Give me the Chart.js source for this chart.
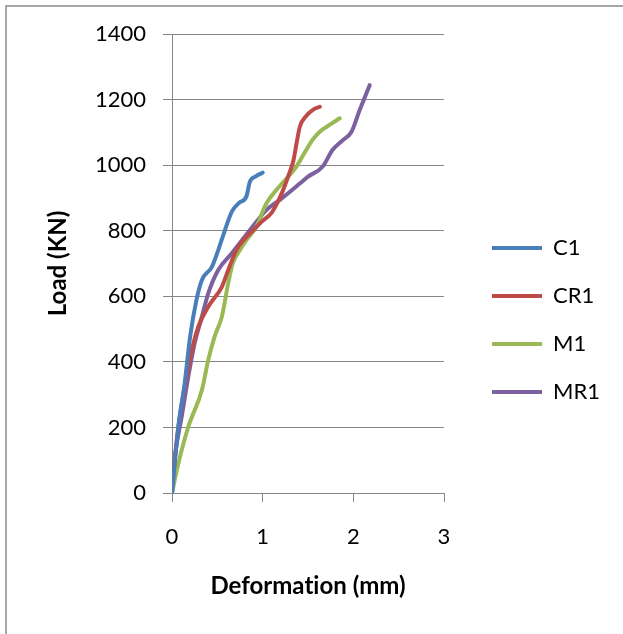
<!DOCTYPE html>
<html>
<head>
<meta charset="utf-8">
<title>Load vs Deformation</title>
<script src="https://cdn.jsdelivr.net/npm/chart.js@4"></script>
<style>
  html, body { margin: 0; padding: 0; background: #fff; }
  #wrap { position: relative; width: 623px; height: 634px; overflow: hidden; }
  #frame { position: absolute; left: 5px; top: 5px; width: 700px; height: 700px;
           border-left: 2px solid #a6a6a6; border-top: 2px solid #a6a6a6; }
  canvas { position: absolute; left: 0; top: 0; }
</style>
</head>
<body>
<div id="wrap">
  <div id="frame"></div>
  <canvas id="myChart" width="623" height="634"></canvas>
</div>
<script>
// values
const seriesNames = ['C1', 'CR1', 'M1', 'MR1'];
const seriesColors = ['#4A7EBB', '#BE4B48', '#98B954', '#7D60A0'];

const c1X = [0, 0.07, 0.14, 0.2, 0.27, 0.33, 0.44, 0.51, 0.56, 0.66, 0.74, 0.82, 0.86, 0.92, 1.0];
const c1Y = [0, 202, 335, 477, 589, 650, 690, 741, 782, 858, 885, 904, 950, 965, 977];

const cr1X = [0, 0.04, 0.1, 0.22, 0.29, 0.4, 0.55, 0.62, 0.71, 0.8, 0.89, 1.0, 1.1, 1.17, 1.22, 1.3, 1.34, 1.37, 1.41, 1.48, 1.55, 1.63];
const cr1Y = [0, 130, 260, 436, 507, 568, 629, 680, 741, 775, 800, 830, 855, 890, 920, 980, 1015, 1061, 1117, 1150, 1168, 1178];

const m1X = [0, 0.07, 0.18, 0.33, 0.4, 0.47, 0.55, 0.62, 0.67, 0.75, 0.82, 0.93, 1.04, 1.15, 1.25, 1.37, 1.48, 1.55, 1.63, 1.75, 1.85];
const m1Y = [0, 90, 202, 314, 406, 477, 538, 640, 700, 741, 771, 812, 883, 924, 955, 995, 1046, 1077, 1102, 1125, 1143];

const mr1X = [0, 0.033, 0.107, 0.18, 0.25, 0.33, 0.4, 0.51, 0.66, 0.86, 1.04, 1.19, 1.41, 1.5, 1.66, 1.77, 1.88, 1.98, 2.07, 2.18];
const mr1Y = [0, 111, 233, 355, 457, 538, 609, 680, 731, 802, 863, 894, 944, 965, 995, 1046, 1075, 1102, 1168, 1244];

const xTicks = [0, 1, 2, 3];
const yTicks = [0, 200, 400, 600, 800, 1000, 1200, 1400];

const allX = [c1X, cr1X, m1X, mr1X];
const allY = [c1Y, cr1Y, m1Y, mr1Y];

const gridGray = '#868686';
const fontSize = 22;
const titleSize = 24;
Chart.defaults.font.family = 'Lato';
Chart.defaults.color = '#000';

// no "ti" ligature in the titles
const noLigatures = {
  id: 'noLigatures',
  beforeInit: chart => { chart.ctx.letterSpacing = '0.01px'; chart.ctx.textRendering = 'optimizeSpeed'; },
  beforeDraw: chart => { chart.ctx.letterSpacing = '0.01px'; chart.ctx.textRendering = 'optimizeSpeed'; }
};

// legend sizing so the line samples start at x=492
const legendPad = 26;
const legendLine = 50;
const canvas = document.getElementById('myChart');
const mctx = canvas.getContext('2d');
mctx.font = fontSize + 'px Lato';
const textW = Math.max(...seriesNames.map(n => mctx.measureText(n).width));
const legendW = legendPad + legendLine + fontSize / 2 + textW + 10;
const padRight = 623 - (492 - legendPad) - legendW;

const datasets = seriesNames.map((name, i) => ({
  label: name,
  data: allX[i].map((x, j) => ({x: x, y: allY[i][j]})),
  borderColor: seriesColors[i],
  backgroundColor: seriesColors[i],
  borderWidth: 4,
  borderCapStyle: 'round',
  borderJoinStyle: 'round',
  pointRadius: 0,
  cubicInterpolationMode: 'monotone',
  fill: false
}));

const config = {
  type: 'line',
  data: {datasets: datasets},
  options: {
    responsive: false,
    animation: false,
    layout: {padding: {top: 6, left: 0, bottom: 0, right: padRight}},
    plugins: {
      tooltip: {enabled: false},
      legend: {
        position: 'right',
        align: 'center',
        maxWidth: 300,
        labels: {
          usePointStyle: true,
          pointStyle: 'line',
          pointStyleWidth: legendLine,
          padding: legendPad,
          font: {size: fontSize},
          color: '#000'
        }
      }
    },
    scales: {
      x: {
        type: 'linear',
        position: 'bottom',
        min: 0,
        max: 3,
        afterBuildTicks: s => { s.ticks = xTicks.map(v => ({value: v})); },
        afterFit: s => { s.height = 141; },
        grid: {display: true, drawOnChartArea: false, drawTicks: true, tickLength: 9, color: gridGray},
        border: {display: true, color: gridGray},
        ticks: {font: {size: fontSize}, padding: 22, color: '#000', callback: v => String(v)},
        title: {display: true, text: 'Deformation (mm)', font: {size: titleSize, weight: 'bold'}, padding: {top: 0, bottom: 33}, color: '#000'}
      },
      y: {
        type: 'linear',
        position: 'left',
        min: 0,
        max: 1400,
        afterBuildTicks: s => { s.ticks = yTicks.map(v => ({value: v})); },
        afterFit: s => { s.width = 172; },
        grid: {display: true, drawTicks: true, tickLength: 9, color: gridGray},
        border: {display: true, color: gridGray},
        ticks: {font: {size: fontSize}, padding: 17, color: '#000', callback: v => String(v)},
        title: {display: true, text: 'Load (KN)', font: {size: titleSize, weight: 'bold'}, padding: {top: 44, bottom: 0}, color: '#000'}
      },
      xTop: {
        type: 'linear',
        position: 'top',
        grid: {display: false},
        border: {display: false},
        ticks: {display: false},
        afterFit: s => { s.height = 28; }
      },
      yRight: {
        type: 'linear',
        position: 'right',
        grid: {display: false},
        border: {display: false},
        ticks: {display: false},
        afterFit: s => { s.width = 22; }
      }
    }
  },
  plugins: [noLigatures]
};

const myChart = new Chart(canvas, config);
</script>
</body>
</html>
